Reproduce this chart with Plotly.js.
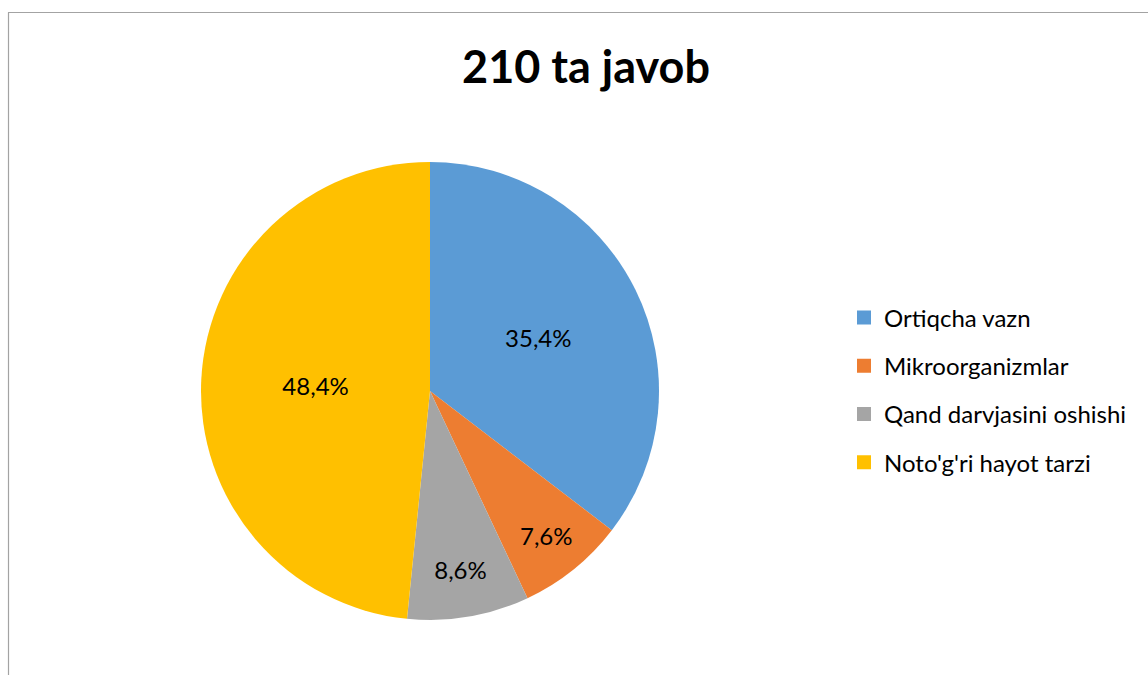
<!DOCTYPE html>
<html>
<head>
<meta charset="utf-8">
<script src="https://cdn.plot.ly/plotly-3.0.1.min.js"></script>
<style>html,body{margin:0;padding:0;background:#fff;}#chart{width:1148px;height:675px;}</style>
</head>
<body>
<div id="chart"></div>
<script>
const categories = ["Ortiqcha vazn", "Mikroorganizmlar", "Qand darvjasini oshishi", "Noto'g'ri hayot tarzi"];
const values = [35.4, 7.6, 8.6, 48.4];
const colors = ["#5B9BD5", "#ED7D31", "#A5A5A5", "#FFC000"];
const titleText = "210 ta javob";

const W = 1148, H = 675;
const cx = 430, cy = 391, R = 229;
const FONT = "Lato, sans-serif";

const pie = {
  type: "pie",
  labels: categories,
  values: values,
  sort: false,
  direction: "clockwise",
  rotation: 0,
  showlegend: false,
  marker: {colors: colors, line: {width: 0}},
  texttemplate: "%{percent:.1%}",
  textposition: "inside",
  insidetextorientation: "horizontal",
  textfont: {family: FONT, size: 24, color: "#000"},
  hoverinfo: "label+percent",
  domain: {x: [(cx - R) / W, (cx + R) / W], y: [(H - cy - R) / H, (H - cy + R) / H]}
};

// legend entries (one per category) with spacing like the reference
const legendTraces = categories.map((c, i) => ({
  type: "scatter",
  mode: "markers",
  x: [null], y: [null],
  name: c,
  legendgroup: "g" + i,
  showlegend: true,
  marker: {symbol: "square", size: 14, color: colors[i], line: {width: 0}},
  hoverinfo: "skip"
}));

const layout = {
  width: W, height: H,
  margin: {l: 0, r: 0, t: 0, b: 0},
  paper_bgcolor: "#fff",
  plot_bgcolor: "rgba(0,0,0,0)",
  separators: ",.",
  xaxis: {visible: false},
  yaxis: {visible: false},
  title: {text: "<b>" + titleText + "</b>", x: 586 / W, xanchor: "center", y: 1 - 67 / H, yanchor: "middle",
          font: {family: FONT, size: 45, color: "#000"}},
  showlegend: true,
  legend: {x: 844 / W, xanchor: "left", y: 1 - 390 / H, yanchor: "middle",
           traceorder: "grouped", tracegroupgap: 14,
           font: {family: FONT, size: 24, color: "#000"}, itemclick: false},
  shapes: [
    {type: "line", xref: "paper", yref: "paper", x0: 8.5 / W, x1: 8.5 / W, y0: 0, y1: 1 - 12.5 / H, line: {color: "#a3a3a3", width: 1.2}},
    {type: "line", xref: "paper", yref: "paper", x0: 8 / W, x1: 1, y0: 1 - 12.5 / H, y1: 1 - 12.5 / H, line: {color: "#a3a3a3", width: 1.2}}
  ]
};

Plotly.newPlot("chart", [pie].concat(legendTraces), layout, {displayModeBar: false, staticPlot: true});
</script>
</body>
</html>
